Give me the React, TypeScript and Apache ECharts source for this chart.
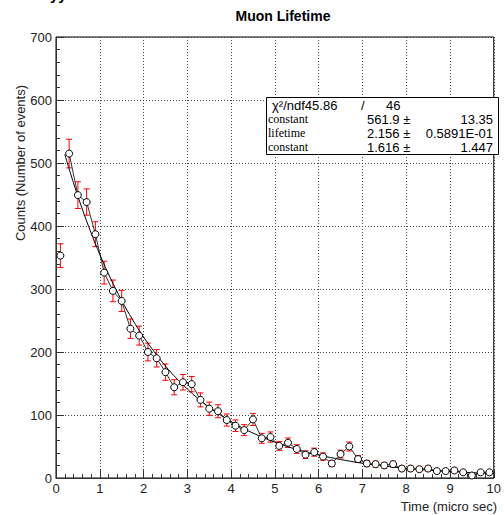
import React, { useEffect, useRef } from "react";
import * as echarts from "echarts";

const times = [
  0.1, 0.3, 0.5, 0.7, 0.9, 1.1, 1.3, 1.5, 1.7, 1.9,
  2.1, 2.3, 2.5, 2.7, 2.9, 3.1, 3.3, 3.5, 3.7, 3.9,
  4.1, 4.3, 4.5, 4.7, 4.9, 5.1, 5.3, 5.5, 5.7, 5.9,
  6.1, 6.3, 6.5, 6.7, 6.9, 7.1, 7.3, 7.5, 7.7, 7.9,
  8.1, 8.3, 8.5, 8.7, 8.9, 9.1, 9.3, 9.5, 9.7, 9.9,
];
const counts = [
  353, 515, 449, 438, 387, 326, 297, 281, 237, 226,
  200, 190, 168, 144, 152, 149, 124, 110, 106, 92,
  83, 76, 93, 63, 65, 51, 56, 46, 37, 41,
  34, 23, 38, 50, 30, 23, 22, 20, 22, 15,
  15, 14, 15, 11, 11, 12, 9, 4, 9, 9,
];
const errors = [
  18.8, 22.7, 21.2, 20.9, 19.7, 18.1, 17.2, 16.8, 15.4, 15.0,
  14.1, 13.8, 13.0, 12.0, 12.3, 12.2, 11.1, 10.5, 10.3, 9.6,
  9.1, 8.7, 9.6, 7.9, 8.1, 7.1, 7.5, 6.8, 6.1, 6.4,
  5.8, 4.8, 6.2, 7.1, 5.5, 4.8, 4.7, 4.5, 4.7, 3.9,
  3.9, 3.7, 3.9, 3.3, 3.3, 3.5, 3.0, 2.0, 3.0, 3.0,
];
const fitTimes = [0.2, 0.4, 0.6, 0.8, 1.0, 1.25, 1.5, 1.75, 2, 2.5, 3, 3.5, 4, 4.5, 5, 5.5, 6, 7, 8, 9, 10];
const fitValues = [513.7, 468.4, 427.0, 389.3, 355.0, 316.3, 281.8, 251.2, 223.8, 177.8, 141.3, 112.4, 89.5, 71.3, 56.9, 45.4, 36.4, 23.5, 15.4, 10.3, 7.0];

const xTicks = { min: 0, max: 10, interval: 1 };
const yTicks = { min: 0, max: 700, interval: 100 };

const statsRows = [
  ["constant", "561.9 \u00b1", "13.35"],
  ["lifetime", "2.156 \u00b1", "0.5891E-01"],
  ["constant", "1.616 \u00b1", "1.447"],
];

const SANS = "'Liberation Sans', Arial, Helvetica, sans-serif";
const SERIF = "'Liberation Serif', 'Times New Roman', serif";

export default function App() {
  const ref = useRef<HTMLDivElement>(null);
  useEffect(() => {
    if (!ref.current) return;
    const chart = echarts.init(ref.current, null, { renderer: "svg" });

    const scatterData = times.map((t, i) => [t, counts[i]]);
    const lineData = times.slice(1).map((t, i) => [t, counts[i + 1]]);
    const errData = times.map((t, i) => [t, counts[i], errors[i]]);
    const fitData = fitTimes.map((t, i) => [t, fitValues[i]]);

    const rowYs = [119, 133, 147];
    const txt = (text: string, x: number, y: number, font: string, align = "left") => ({
      type: "text", x, y, z: 101,
      style: { text, font, fill: "#000", verticalAlign: "middle", align, lineHeight: 12 },
    });
    const statGraphics: any[] = [
      {
        type: "rect",
        shape: { x: 266.5, y: 97.5, width: 232, height: 57 },
        style: { fill: "#fff", stroke: "#000", lineWidth: 1 },
        z: 100,
      },
      txt("\u03c7\u00b2/ndf45.86", 272, 105, `13px ${SANS}`),
      txt("/", 361, 105, `13px ${SANS}`),
      txt("46", 386, 105, `13px ${SANS}`),
    ];
    statsRows.forEach((r, i) => {
      statGraphics.push(
        txt(r[0], 268, rowYs[i], `12px ${SERIF}`),
        txt(r[1], 367, rowYs[i], `13px ${SANS}`),
        txt(r[2], 493, rowYs[i], `13px ${SANS}`, "right")
      );
    });

    chart.setOption({
      animation: false,
      backgroundColor: "#fff",
      title: {
        text: "Muon Lifetime",
        left: 278,
        top: 4,
        textAlign: "center",
        textStyle: { fontFamily: SANS, fontWeight: "bold", fontSize: 14, color: "#000" },
      },
      grid: {
        left: 56, top: 37, right: 5, bottom: 37,
        show: true, borderColor: "#000", borderWidth: 1, backgroundColor: "transparent",
      },
      xAxis: {
        type: "value",
        ...xTicks,
        axisLine: { show: true, onZero: false, lineStyle: { color: "#333", width: 1 } },
        axisTick: { show: true, inside: true, length: 8, lineStyle: { color: "#333" } },
        minorTick: { show: true, splitNumber: 5, length: 4, lineStyle: { color: "#333" } },
        splitLine: { show: true, lineStyle: { color: "#444", type: [1, 2], width: 1 } },
        axisLabel: { color: "#222", fontFamily: SANS, fontSize: 13, margin: 4, showMaxLabel: true, showMinLabel: true },
      },
      yAxis: {
        type: "value",
        ...yTicks,
        axisLine: { show: true, onZero: false, lineStyle: { color: "#333", width: 1 } },
        axisTick: { show: true, inside: true, length: 8, lineStyle: { color: "#333" } },
        minorTick: { show: true, splitNumber: 5, length: 4, lineStyle: { color: "#333" } },
        splitLine: { show: true, lineStyle: { color: "#444", type: [1, 2], width: 1 } },
        axisLabel: { color: "#222", fontFamily: SANS, fontSize: 13, margin: 4 },
      },
      series: [
        {
          type: "custom",
          name: "errors",
          z: 2,
          data: errData,
          encode: { x: 0, y: 1 },
          renderItem: (params: any, api: any) => {
            const x = api.value(0);
            const y = api.value(1);
            const e = api.value(2);
            const top = api.coord([x, y + e]);
            const bot = api.coord([x, y - e]);
            const cw = 3;
            const st = { stroke: "#ff0000", lineWidth: 1 };
            return {
              type: "group",
              children: [
                { type: "line", shape: { x1: top[0], y1: top[1], x2: bot[0], y2: bot[1] }, style: st },
                { type: "line", shape: { x1: top[0] - cw, y1: top[1], x2: top[0] + cw, y2: top[1] }, style: st },
                { type: "line", shape: { x1: bot[0] - cw, y1: bot[1], x2: bot[0] + cw, y2: bot[1] }, style: st },
              ],
            };
          },
        },
        {
          type: "line",
          name: "data line",
          z: 3,
          data: lineData,
          showSymbol: false,
          lineStyle: { color: "#333", width: 1 },
        },
        {
          type: "line",
          name: "fit",
          z: 4,
          data: fitData,
          showSymbol: false,
          smooth: 0.4,
          lineStyle: { color: "#000", width: 1 },
        },
        {
          type: "scatter",
          name: "counts",
          z: 5,
          data: scatterData,
          symbol: "circle",
          symbolSize: 7,
          itemStyle: { color: "#fff", borderColor: "#000", borderWidth: 1, opacity: 1 },
        },
      ],
      graphic: [
        {
          type: "text",
          x: 20, y: 163,
          rotation: Math.PI / 2,
          style: { text: "Counts (Number of events)", font: `13px ${SANS}`, fill: "#222", align: "center", verticalAlign: "middle" },
        },
        {
          type: "text",
          x: 497, y: 506,
          style: { text: "Time (micro sec)", font: `13px ${SANS}`, fill: "#222", align: "right", verticalAlign: "middle" },
        },
        {
          type: "text",
          x: 50, y: -13,
          style: { text: "yy", font: `bold 15px ${SANS}`, fill: "#000" },
        },
        ...statGraphics,
      ],
    });
    return () => chart.dispose();
  }, []);
  return <div ref={ref} style={{ width: 504, height: 515, position: "absolute", left: 0, top: 0 }} />;
}
